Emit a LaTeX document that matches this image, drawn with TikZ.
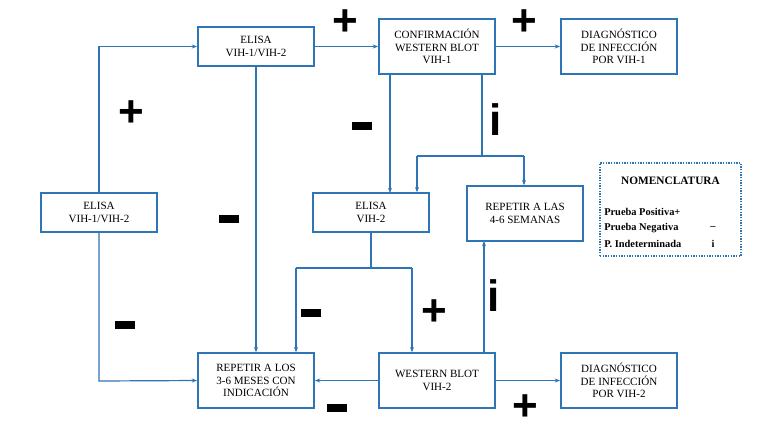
\documentclass[tikz,border=0pt]{standalone}
\usepackage{fontspec}
\setmainfont{Liberation Serif}
\newfontfamily\signfont{Liberation Sans}
\usetikzlibrary{arrows.meta}
\definecolor{bl}{HTML}{2E75B6}
\begin{document}
\begin{tikzpicture}[x=0.75pt,y=-0.75pt,
  box/.style={draw=bl,line width=1.3pt,align=center,inner sep=0pt,font=\fontsize{8.3}{9.6}\selectfont},
  ar/.style={draw=bl,line width=0.9pt,-{Stealth[length=4pt,width=3pt]}},
  ln/.style={draw=bl,line width=0.9pt},
  sg/.style={font=\signfont\bfseries\fontsize{33}{33}\selectfont,inner sep=0pt},
  mn/.style={inner sep=0pt,font=\fontsize{6}{6}\selectfont}]
\useasboundingbox (0,0) rectangle (768,433);
\node[box,minimum width=87pt,minimum height=29pt] (e1) at (99,212.5) {ELISA\\VIH-1/VIH-2};
\node[box,minimum width=87pt,minimum height=29pt] (e2) at (256,46.5) {ELISA\\VIH-1/VIH-2};
\node[box,minimum width=87pt,minimum height=41pt] (wb1) at (437,46.5) {CONFIRMACIÓN\\WESTERN BLOT\\VIH-1};
\node[box,minimum width=87pt,minimum height=41pt] (d1) at (619,46.5) {DIAGNÓSTICO\\DE INFECCIÓN\\POR VIH-1};
\node[box,minimum width=87pt,minimum height=29pt] (ev2) at (371,212.5) {ELISA\\VIH-2};
\node[box,minimum width=87pt,minimum height=41pt] (r46) at (525,213.5) {REPETIR A LAS\\4-6 SEMANAS};
\node[box,minimum width=87pt,minimum height=41pt] (r36) at (256,380.5) {REPETIR A LOS\\3-6 MESES CON\\INDICACIÓN};
\node[box,minimum width=87pt,minimum height=41pt] (wb2) at (437,380.5) {WESTERN BLOT\\VIH-2};
\node[box,minimum width=87pt,minimum height=41pt] (d2) at (619,380.5) {DIAGNÓSTICO\\DE INFECCIÓN\\POR VIH-2};
\node[draw=bl,densely dotted,line width=1pt,minimum width=105.75pt,minimum height=69.75pt] (nom) at (670.5,209.5) {};
\node[font=\bfseries\fontsize{8.5}{9}\selectfont] (nt) at (670.5,181) {NOMENCLATURA};
\node[font=\bfseries\fontsize{7.8}{9}\selectfont,anchor=west,inner sep=0pt] (n1) at (604,212) {Prueba Positiva+};
\node[font=\bfseries\fontsize{7.8}{9}\selectfont,anchor=west,inner sep=0pt] (n2) at (604,228) {Prueba Negativa};
\node[font=\bfseries\fontsize{7.8}{9}\selectfont,inner sep=0pt] (n2s) at (713,228) {–};
\node[font=\bfseries\fontsize{7.8}{9}\selectfont,anchor=west,inner sep=0pt] (n3) at (604,244) {P. Indeterminada};
\node[font=\bfseries\fontsize{7.8}{9}\selectfont,inner sep=0pt] (n3s) at (713,244) {i};
\coordinate (c1) at (99,46.5);
\coordinate (c2) at (99,381);
\coordinate (c3) at (482,156);
\coordinate (c4) at (417,156);
\coordinate (c5) at (524,156);
\coordinate (c6) at (371,268);
\coordinate (c7) at (296,268);
\coordinate (c8) at (412,268);
\draw[ar] (e1.north) -- (c1) -- (e2.west);
\draw[ar] (e2) -- (wb1);
\draw[ar] (wb1) -- (d1);
\draw[ar] (e2.south) -- (e2.south |- r36.north);
\draw[ar] (wb1.south -| 390,0) -- (390,193);
\draw[ln] (wb1.south -| c3) -- (c3);
\draw[ln] (c4) -- (c5);
\draw[ar] (c4) -- (c4 |- ev2.north);
\draw[ar] (c5) -- (c5 |- r46.north);
\draw[ar] (e1.south) -- (c2) -- (r36.west);
\draw[ln] (ev2.south) -- (c6);
\draw[ln] (c7) -- (c8);
\draw[ar] (c7) -- (c7 |- r36.north);
\draw[ar] (c8) -- (c8 |- wb2.north);
\draw[ar] (wb2) -- (r36);
\draw[ar] (wb2) -- (d2);
\draw[ar] (wb2.north -| 484,0) -- (484,241);
\node[sg] (s1) at (345,23) {+};
\node[sg] (s2) at (524,23) {+};
\node[sg] (s3) at (131,114) {+};
\node[mn] (s4) at (362,126) {\rule{15pt}{5.5pt}};
\node[sg] (s5) at (496,120) {i};
\node[mn] (s6) at (229,219) {\rule{15pt}{5.5pt}};
\node[mn] (s7) at (125,325) {\rule{15pt}{5.5pt}};
\node[mn] (s8) at (311,313) {\rule{15pt}{5.5pt}};
\node[sg] (s9) at (434,313) {+};
\node[sg] (s10) at (494,296) {i};
\node[mn] (s11) at (337,408) {\rule{15pt}{5.5pt}};
\node[sg] (s12) at (525,408) {+};
\end{tikzpicture}
\end{document}
